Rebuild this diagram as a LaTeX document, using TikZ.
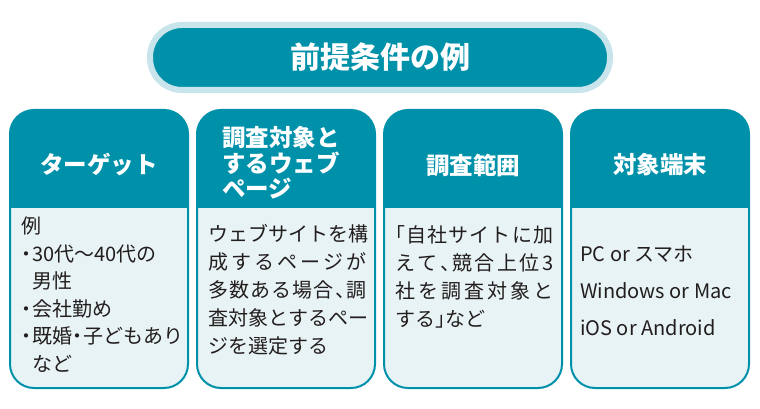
\documentclass[tikz,border=0pt]{standalone}
\usepackage{fontspec}
\setmainfont{Noto Sans CJK JP}
\usetikzlibrary{positioning}

\definecolor{headteal}{RGB}{0,145,170}
\definecolor{ringblue}{RGB}{200,229,236}
\definecolor{bodyblue}{RGB}{232,243,246}
\definecolor{inkgray}{RGB}{35,30,30}

% spread the characters of one line over the full body width
\def\jspread#1#2\relax{#1\ifx\relax#2\relax\else\hfil\jspread#2\relax\fi}
\newcommand\jline[1]{\makebox[158pt][s]{\jspread#1\relax}}
\newcommand\bul{\makebox[11pt]{・}}
% half-width punctuation
\newcommand\tenC{\makebox[10pt][l]{、}}
\newcommand\kakkoL{\makebox[10pt][r]{「}}
\newcommand\kakkoR{\makebox[10pt][l]{」}}

\begin{document}
\begin{tikzpicture}[
    x=1pt, y=-1pt,
    titlebox/.style={draw=ringblue, line width=6pt, fill=headteal, rounded corners=32pt,
        minimum width=460pt, minimum height=65pt, text=white,
        font=\fontsize{30}{32}\selectfont\bfseries},
    frame/.style={draw=headteal, line width=2pt, rounded corners=24pt,
        minimum width=178pt, minimum height=278pt, inner sep=0pt},
    headtxt/.style={text=white, font=\fontsize{23.5}{25.5}\selectfont\bfseries, inner sep=0pt},
    bodytxt/.style={text=inkgray, anchor=north west, align=left, inner sep=0pt},
]
    \useasboundingbox[fill=white] (0,0) rectangle (760,409);

    \node[titlebox] (title) at (380,57.5) {前提条件の例};

    \foreach \i/\x in {1/10,2/197,3/384,4/571} {
        \begin{scope}
            \clip[rounded corners=24pt] (\x,110) rectangle ++(178,278);
            \fill[headteal] (\x,110) rectangle ++(178,98);
            \fill[bodyblue] (\x,208) rectangle ++(178,180);
        \end{scope}
        \node[frame] (col\i) at (\x+89,249) {};
    }

    \node[headtxt] (headA) at (99,165) {ターゲット};
    \node[headtxt, anchor=west, align=left] (headB) at (222,163) {調査対象と\\するウェブ\\ページ};
    \node[headtxt] (headC) at (473,165) {調査範囲};
    \node[headtxt] (headD) at (660,165) {対象端末};

    \node[bodytxt, font=\fontsize{20}{27.5}\selectfont] (bodyA) at (21,217)
        {例\\ \bul 30代～40代の\\ \hspace*{11pt}男性\\ \bul 会社勤め\\
         \bul 既婚\makebox[11pt]{・}子どもあり\\ \hspace*{11pt}など};
    \node[bodytxt, font=\fontsize{20}{28}\selectfont] (bodyB) at (208,224)
        {\jline{ウェブサイトを構}\\ \jline{成するページが}\\ \jline{多数ある場合\tenC 調}\\
         \jline{査対象とするペー}\\ ジを選定する};
    \node[bodytxt, font=\fontsize{20}{28}\selectfont] (bodyC) at (395,225)
        {\jline{\kakkoL 自社サイトに加}\\ \jline{えて\tenC 競合上位3}\\ \jline{社を調査対象と}\\ する\kakkoR など};
    \node[bodytxt, font=\fontsize{20}{37}\selectfont] (bodyD) at (580,246)
        {PC or スマホ\\ Windows or Mac\\ iOS or Android};
\end{tikzpicture}
\end{document}
